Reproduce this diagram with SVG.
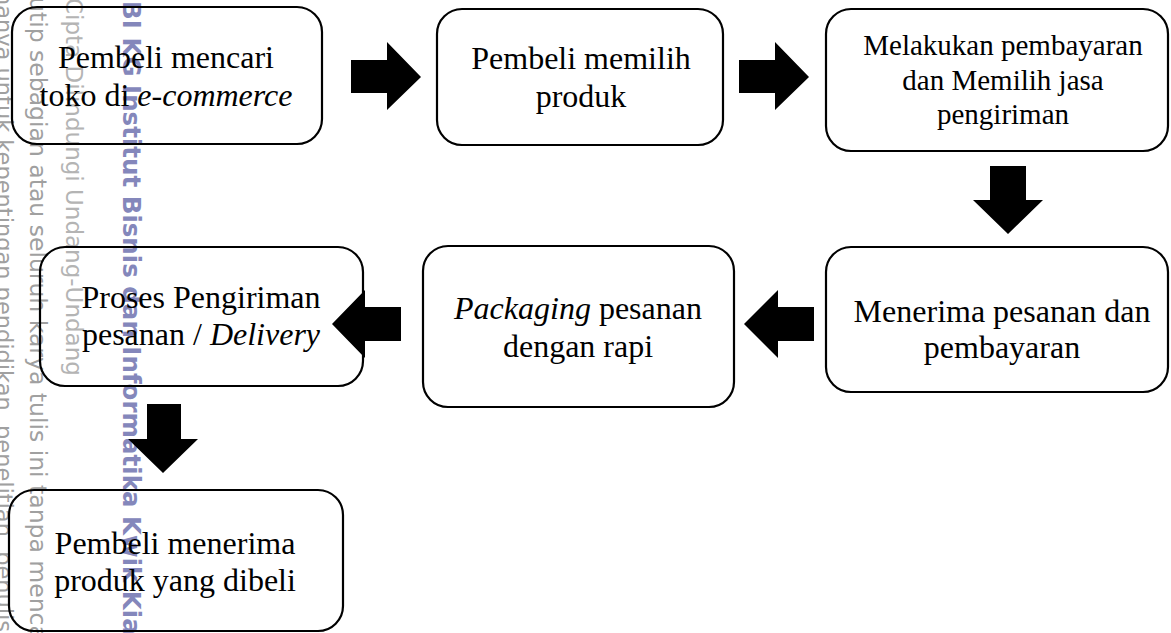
<svg xmlns="http://www.w3.org/2000/svg" width="1171" height="633" viewBox="0 0 1171 633">
  <style>
    .box { fill: none; stroke: #000000; stroke-width: 2.2; }
    .lbl { font-family: "Liberation Serif", "Times New Roman", serif; font-size: 32px; fill: #000000; text-anchor: middle; }
    .sm { font-size: 29px; }
    .it { font-style: italic; }
    .arrow { fill: #000000; stroke: none; }
    .wm { font-family: "DejaVu Sans", sans-serif; font-size: 22.5px; fill: #a0a0a0; }
    .wm2 { font-size: 23.5px; }
    .wm3 { fill: #b4b4b4; font-size: 23px; }
    .wmb { font-family: "DejaVu Sans", sans-serif; font-size: 24.5px; font-weight: bold; fill: #8487bb; }
  </style>
  <rect x="0" y="0" width="1171" height="633" fill="#ffffff"/>

  <g id="watermark">
    <text class="wm" transform="translate(-4,-9) rotate(90)">hanya untuk kepentingan pendidikan, penelitian, penulisan</text>
    <text class="wm wm2" transform="translate(30,-177) rotate(90)">Dilarang mengutip sebagian atau seluruh karya tulis ini tanpa mencantumkan</text>
    <text class="wm wm3" transform="translate(66,-54) rotate(90)">Hak Cipta Dilindungi Undang-Undang</text>
    <text class="wmb" transform="translate(123,-8) rotate(90)">IBI KG Institut Bisnis dan Informatika Kwik Kian Gie</text>
  </g>

  <g id="connectors">
    <polygon class="arrow" points="351,60 387,60 387,42 421,77 387,110 387,93 351,93"/>
    <polygon class="arrow" points="739,60 775,60 775,42 809,77 775,110 775,93 739,93"/>
    <polygon class="arrow" points="990,166 1026,166 1026,200 1043,200 1008,234 973,200 990,200"/>
    <polygon class="arrow" points="814,307 778,307 778,290 744,324 778,358 778,341 814,341"/>
    <polygon class="arrow" points="401,307 365,307 365,290 332,324 365,358 365,341 401,341"/>
    <polygon class="arrow" points="147,404 181,404 181,439 198,439 163,473 128,439 147,439"/>
  </g>

  <g id="node1">
    <rect class="box" x="12" y="7" width="310" height="137" rx="25" ry="25"/>
    <text class="lbl" x="166" y="68">Pembeli mencari</text>
    <text class="lbl" x="166" y="106">toko di <tspan class="it">e-commerce</tspan></text>
  </g>
  <g id="node2">
    <rect class="box" x="437" y="9" width="286" height="136" rx="25" ry="25"/>
    <text class="lbl" x="581" y="69">Pembeli memilih</text>
    <text class="lbl" x="581" y="107">produk</text>
  </g>
  <g id="node3">
    <rect class="box" x="826" y="9" width="342" height="142" rx="25" ry="25"/>
    <text class="lbl sm" x="1003" y="55">Melakukan pembayaran</text>
    <text class="lbl sm" x="1003" y="90">dan Memilih jasa</text>
    <text class="lbl sm" x="1003" y="124">pengiriman</text>
  </g>
  <g id="node4">
    <rect class="box" x="826" y="247" width="342" height="145" rx="25" ry="25"/>
    <text class="lbl" x="1002" y="322">Menerima pesanan dan</text>
    <text class="lbl" x="1002" y="358">pembayaran</text>
  </g>
  <g id="node5">
    <rect class="box" x="423" y="246" width="311" height="161" rx="25" ry="25"/>
    <text class="lbl" x="578" y="319"><tspan class="it">Packaging</tspan> pesanan</text>
    <text class="lbl" x="578" y="357">dengan rapi</text>
  </g>
  <g id="node6">
    <rect class="box" x="40" y="247" width="323" height="139" rx="25" ry="25"/>
    <text class="lbl" x="201" y="308">Proses Pengiriman</text>
    <text class="lbl" x="201" y="345">pesanan / <tspan class="it">Delivery</tspan></text>
  </g>
  <g id="node7">
    <rect class="box" x="9" y="490" width="334" height="141" rx="25" ry="25"/>
    <text class="lbl" x="175" y="554">Pembeli menerima</text>
    <text class="lbl" x="175" y="591">produk yang dibeli</text>
  </g>
</svg>
